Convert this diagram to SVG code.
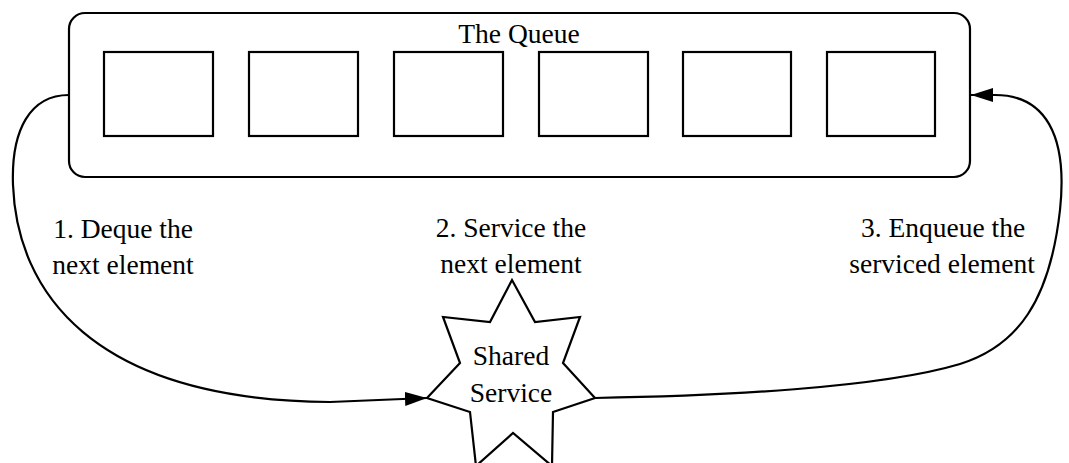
<svg xmlns="http://www.w3.org/2000/svg" width="1069" height="463" viewBox="0 0 1069 463">
  <style>
    .line { fill: none; stroke: #000; stroke-width: 2.2; }
    .box { fill: #fff; stroke: #000; stroke-width: 2.2; }
    .txt { font-family: "Liberation Serif", "Times New Roman", serif; font-size: 27.5px; fill: #000; text-anchor: middle; }
  </style>
  <defs>
    <marker id="arrow" viewBox="0 0 22 14" refX="22" refY="7" markerWidth="22" markerHeight="14" markerUnits="userSpaceOnUse" orient="auto">
      <path d="M0,0 L22,7 L0,14 Z" fill="#000"/>
    </marker>
  </defs>
  <rect width="1069" height="463" fill="#fff"/>

  <g id="queue">
    <rect class="box" x="69" y="13" width="901" height="164" rx="16" ry="16"/>
    <text class="txt" x="519" y="43">The Queue</text>
    <rect class="box" x="104" y="52" width="109" height="84"/>
    <rect class="box" x="249" y="52" width="109" height="84"/>
    <rect class="box" x="394" y="52" width="109" height="84"/>
    <rect class="box" x="539" y="52" width="109" height="84"/>
    <rect class="box" x="683" y="52" width="108" height="84"/>
    <rect class="box" x="827" y="52" width="108" height="84"/>
  </g>

  <g id="shared-service">
    <polygon class="box" points="512,280 535,322 580,317 563,363 595,398 553,412 552,466 513,433 476,466 470,412 427,398 460,363 443,317 490,322"/>
    <text class="txt" x="511" y="365">Shared</text>
    <text class="txt" x="511" y="402">Service</text>
  </g>

  <g id="connectors">
    <path class="line" d="M69,95 C30,95 11,130 13,185 C17,290 90,400 330,402 L427,398" marker-end="url(#arrow)"/>
    <path class="line" d="M595,398 C720,396 880,388 960,364 C1018,346 1050,300 1060,210 C1068,135 1045,95 995,95 L971,95" marker-end="url(#arrow)"/>
  </g>

  <g id="labels">
    <text class="txt" x="123" y="238">1. Deque the</text>
    <text class="txt" x="123" y="274">next element</text>
    <text class="txt" x="511" y="237">2. Service the</text>
    <text class="txt" x="511" y="273">next element</text>
    <text class="txt" x="943" y="237">3. Enqueue the</text>
    <text class="txt" x="942" y="273">serviced element</text>
  </g>
</svg>
